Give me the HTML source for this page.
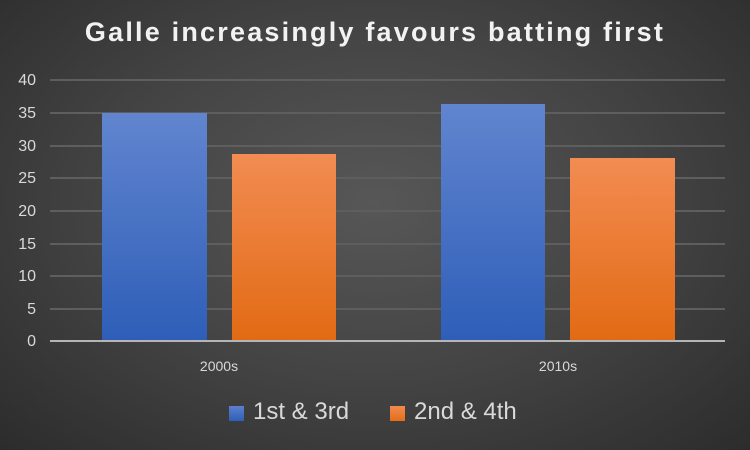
<!DOCTYPE html>
<html><head><style>
body{margin:0;}
.c{position:relative;width:750px;height:450px;overflow:hidden;font-family:"Liberation Sans",sans-serif;
background:radial-gradient(ellipse at 50% 45%,#575757 0%,#444 50%,#2c2c2c 100%);}
.t{position:absolute;left:0;width:750px;top:17px;text-align:center;color:#f2f2f2;font-size:27px;font-weight:bold;letter-spacing:2.2px;}
.g{position:absolute;left:50px;width:675px;height:2px;background:#5e5e5e;}
.yl{position:absolute;left:0;width:36px;text-align:right;color:#d9d9d9;font-size:16px;}
.b{position:absolute;}
.bl{background:linear-gradient(#6185cf,#2e5eb8);}
.or{background:linear-gradient(#f28c52,#e26a14);}
.xl{position:absolute;color:#d9d9d9;font-size:14px;width:100px;text-align:center;top:358px;}
.lg{position:absolute;top:398px;color:#d9d9d9;font-size:24px;}
.sq{position:absolute;top:406px;width:15px;height:15px;}
</style></head><body><div class="c">
<div class="t">Galle increasingly favours batting first</div>
<div class="g" style="top:79px"></div><div class="g" style="top:112px"></div><div class="g" style="top:145px"></div><div class="g" style="top:177px"></div><div class="g" style="top:210px"></div><div class="g" style="top:243px"></div><div class="g" style="top:275px"></div><div class="g" style="top:308px"></div>
<div class="yl" style="top:72px">40</div><div class="yl" style="top:105px">35</div><div class="yl" style="top:138px">30</div><div class="yl" style="top:170px">25</div><div class="yl" style="top:203px">20</div><div class="yl" style="top:236px">15</div><div class="yl" style="top:268px">10</div><div class="yl" style="top:301px">5</div><div class="yl" style="top:333px">0</div>
<div class="b bl" style="left:102px;width:105px;top:113px;height:228px"></div>
<div class="b or" style="left:232px;width:104px;top:154px;height:187px"></div>
<div class="b bl" style="left:441px;width:104px;top:104px;height:237px"></div>
<div class="b or" style="left:570px;width:105px;top:158px;height:183px"></div>
<div style="position:absolute;left:50px;width:675px;top:340px;height:2px;background:#b5b5b5"></div>
<div class="xl" style="left:169px">2000s</div><div class="xl" style="left:508px">2010s</div>
<div class="sq" style="left:229px;background:linear-gradient(#5b80cc,#2f5fb8)"></div>
<div class="lg" style="left:253px">1st &amp; 3rd</div>
<div class="sq" style="left:390px;background:linear-gradient(#f28a4e,#e46d18)"></div>
<div class="lg" style="left:414px">2nd &amp; 4th</div>
</div></body></html>
